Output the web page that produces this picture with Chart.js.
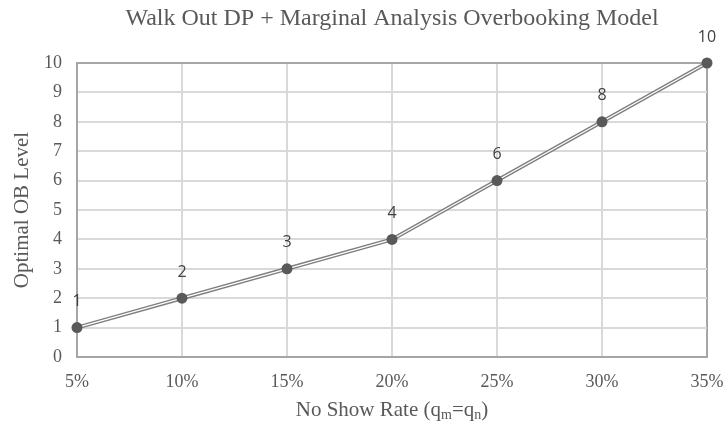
<!DOCTYPE html>
<html>
<head>
<meta charset="utf-8">
<script src="https://cdn.jsdelivr.net/npm/chart.js@4"></script>
<style>
  html, body { margin: 0; padding: 0; background: #fff; }
  #wrap { width: 727px; height: 425px; position: relative; }
</style>
</head>
<body>
<div id="wrap"><canvas id="chart"></canvas></div>
<script>
const rates = ["5%", "10%", "15%", "20%", "25%", "30%", "35%"];
const obLevels = [1, 2, 3, 4, 6, 8, 10];
const yTicks = [0, 1, 2, 3, 4, 5, 6, 7, 8, 9, 10];

const serif = "'Liberation Serif', 'Times New Roman', serif";
const sans = "'Open Sans', 'Noto Sans', sans-serif";
const textGrey = "#595959";

// titles and point labels drawn by hand (x title needs subscripts)
const decorations = {
  id: "decorations",
  afterDraw(chart) {
    const { ctx, chartArea } = chart;
    const cx = (chartArea.left + chartArea.right) / 2;
    ctx.save();
    ctx.fillStyle = textGrey;
    ctx.textBaseline = "middle";

    // chart title
    ctx.textAlign = "center";
    ctx.font = "24px " + serif;
    ctx.fillText("Walk Out DP + Marginal Analysis Overbooking Model", cx, 19);

    // y title
    ctx.save();
    ctx.translate(22, (chartArea.top + chartArea.bottom) / 2);
    ctx.rotate(-Math.PI / 2);
    ctx.font = "21px " + serif;
    ctx.fillText("Optimal OB Level", 0, 0);
    ctx.restore();

    // x title with subscripts
    const parts = [
      ["No Show Rate (q", 21, 0],
      ["m", 14, 5],
      ["=q", 21, 0],
      ["n", 14, 5],
      [")", 21, 0],
    ];
    ctx.textAlign = "left";
    let total = 0;
    parts.forEach(([t, s]) => {
      ctx.font = s + "px " + serif;
      total += ctx.measureText(t).width;
    });
    let x = cx - total / 2;
    parts.forEach(([t, s, dy]) => {
      ctx.font = s + "px " + serif;
      ctx.fillText(t, x, 410 + dy);
      x += ctx.measureText(t).width;
    });

    // data labels
    ctx.textAlign = "center";
    ctx.fillStyle = "#404040";
    ctx.font = "16px " + sans;
    const meta = chart.getDatasetMeta(0);
    meta.data.forEach((pt, i) => {
      ctx.fillText(String(obLevels[i]), pt.x, pt.y - 26);
    });
    ctx.restore();
  },
};

new Chart(document.getElementById("chart"), {
  type: "line",
  data: {
    labels: rates,
    datasets: [
      {
        // markers on top
        data: obLevels,
        showLine: false,
        pointRadius: 5.5,
        pointBackgroundColor: textGrey,
        pointBorderWidth: 0,
        clip: false,
        order: 1,
      },
      {
        // white core of the double line
        data: obLevels,
        borderColor: "#ffffff",
        borderWidth: 1.2,
        pointRadius: 0,
        clip: false,
        order: 2,
      },
      {
        data: obLevels,
        borderColor: "#7f7f7f",
        borderWidth: 4,
        pointRadius: 0,
        clip: false,
        order: 3,
      },
    ],
  },
  options: {
    responsive: true,
    maintainAspectRatio: false,
    animation: false,
    events: [],
    layout: { padding: { top: 63, right: 20, left: 0, bottom: 0 } },
    plugins: {
      legend: { display: false },
      title: { display: false },
      tooltip: { enabled: false },
    },
    scales: {
      x: {
        offset: false,
        afterFit: (s) => {
          s.height = 68;
          s.paddingLeft = 0;
          s.paddingRight = 0;
        },
        grid: {
          drawTicks: false,
          lineWidth: 2,
          color: (c) => (c.index === rates.length - 1 ? "#a6a6a6" : "#d9d9d9"),
        },
        border: { color: "#a6a6a6", width: 2 },
        ticks: {
          padding: 14,
          color: textGrey,
          font: { family: serif, size: 18 },
          maxRotation: 0,
        },
      },
      y: {
        min: 0,
        max: 10,
        afterFit: (s) => {
          s.width = 77;
          s.paddingTop = 0;
          s.paddingBottom = 0;
        },
        afterBuildTicks: (s) => { s.ticks = yTicks.map((v) => ({ value: v })); },
        grid: {
          drawTicks: false,
          lineWidth: 2,
          color: (c) => (c.tick && c.tick.value === 10 ? "#a6a6a6" : "#d9d9d9"),
        },
        border: { color: "#a6a6a6", width: 2 },
        ticks: {
          padding: 15,
          color: textGrey,
          font: { family: serif, size: 18 },
        },
      },
    },
  },
  plugins: [decorations],
});
</script>
</body>
</html>
